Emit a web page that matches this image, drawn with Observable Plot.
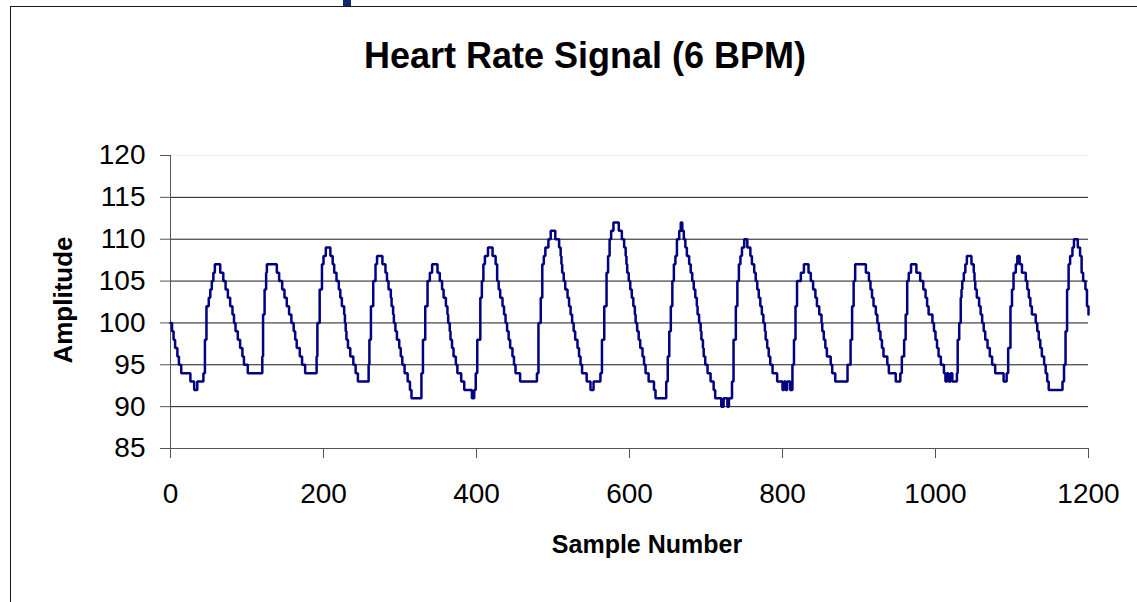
<!DOCTYPE html>
<html>
<head>
<meta charset="utf-8">
<script src="https://cdn.jsdelivr.net/npm/d3@7"></script>
<script src="https://cdn.jsdelivr.net/npm/@observablehq/plot@0.6"></script>
<style>
  html, body { margin: 0; padding: 0; background: #fff; }
  #wrap { position: relative; width: 1137px; height: 602px; overflow: hidden; font-family: "Liberation Sans", Arial, sans-serif; }
  #border { position: absolute; left: 10px; top: 6px; width: 2000px; height: 2000px; border-top: 1.5px solid #1a1a1a; border-left: 1.5px solid #1a1a1a; box-sizing: border-box; }
  #mark { position: absolute; left: 343px; top: 0; width: 8px; height: 6px; background: #0c2c6e; }
  #chart { position: absolute; left: 0; top: 0; }
  .lbl { position: absolute; font-weight: bold; color: #000; white-space: nowrap; text-align: center; }
  #title { left: 0; width: 1170px; top: 38px; font-size: 36px; line-height: 36px; }
  #xlab { left: 447px; width: 400px; top: 532px; font-size: 25px; line-height: 25px; }
  #ylab { left: -87px; width: 300px; top: 287px; font-size: 26px; line-height: 26px; transform: rotate(-90deg); transform-origin: 150px 13px; }
</style>
</head>
<body>
<div id="wrap">
  <div id="border"></div>
  <div id="mark"></div>
  <div id="chart"></div>
  <div class="lbl" id="title"></div>
  <div class="lbl" id="xlab"></div>
  <div class="lbl" id="ylab"></div>
</div>
<script>
const chartTitle = "Heart Rate Signal (6 BPM)";
const xTitle = "Sample Number";
const yTitle = "Amplitude";
const xTicks = [0, 200, 400, 600, 800, 1000, 1200];
const yTicks = [85, 90, 95, 100, 105, 110, 115, 120];
// Sample index where the (stepped) amplitude changes, and the new amplitude
const sampleIdx = [
  0,2,4,6,9,11,14,26,31,35,43,45,47,50,52,54,56,58,65,69,72,75,78,81,83,85,88,91,94,96,101,
  120,121,123,125,126,139,142,146,149,152,155,158,161,163,165,169,172,176,
  191,192,195,198,200,203,209,212,214,217,220,222,224,227,228,229,230,232,235,239,242,245,
  259,260,262,265,268,270,277,281,283,285,288,289,291,292,294,296,299,301,303,306,310,313,315,
  328,330,333,336,339,342,349,352,355,357,360,362,363,365,366,368,370,373,375,380,384,394,397,
  399,401,405,407,409,411,415,421,425,427,429,431,434,436,438,440,442,444,447,449,451,457,
  479,481,484,486,488,490,494,497,503,508,510,511,512,514,516,519,521,523,525,527,529,532,534,536,538,544,549,553,
  562,564,567,570,572,574,576,579,586,590,593,595,596,597,599,601,603,605,607,608,610,612,614,617,619,621,625,632,634,
  648,650,652,654,656,658,660,662,665,667,669,671,673,675,678,680,682,684,686,688,689,691,693,694,696,697,699,702,706,710,712,720,723,728,730,
  734,736,739,741,743,745,747,750,754,758,760,763,765,767,769,771,773,775,777,778,780,782,784,787,793,800,802,804,806,810,
  813,815,817,819,824,828,834,837,840,843,845,848,851,852,854,856,858,863,865,869,
  885,889,891,893,895,909,913,915,917,919,922,924,926,928,930,932,937,939,948,954,
  956,959,961,963,965,968,975,980,984,987,989,991,996,998,1000,1002,1004,1007,1011,1013,1015,1017,1020,1022,
  1028,1029,1031,1033,1034,1035,1037,1039,1041,1047,1050,1051,1052,1054,1057,1059,1061,1063,1065,1068,1071,1074,1078,1089,
  1093,1095,1098,1100,1102,1105,1107,1110,1113,1118,1120,1122,1124,1126,1131,1133,1135,1137,1139,1142,1144,1146,1148,
  1166,1168,1170,1172,1174,1176,1179,1181,1186,1189,1191,1193,1196,1198,1200
];
const amplitude = [
  100,99,98,97,96,95,94,93,92,93,94,98,102,103,104,105,106,107,106,105,104,103,102,101,100,99,98,97,96,95,94,
  96,101,104,106,107,106,105,104,103,102,101,100,99,98,97,96,95,94,
  96,100,104,107,108,109,108,107,106,105,104,103,102,101,100,99,98,97,96,95,94,93,
  95,98,102,105,107,108,107,106,105,104,103,102,101,100,99,98,97,96,95,94,93,92,91,
  94,98,102,105,106,107,106,105,104,103,102,101,100,99,98,97,96,95,94,93,92,91,92,
  94,98,103,105,107,108,109,108,107,105,104,103,102,101,100,99,98,97,96,95,94,93,
  94,100,103,107,108,109,110,111,110,109,108,107,106,105,104,103,102,101,100,99,98,97,96,95,94,93,92,93,
  94,98,102,106,108,110,111,112,111,110,109,108,107,106,105,104,103,102,101,100,99,98,97,96,95,94,93,92,91,
  93,96,99,102,105,107,108,110,111,112,111,110,109,108,107,106,105,104,103,102,101,100,99,98,97,96,95,94,93,92,91,90,91,90,91,
  93,98,102,105,107,108,109,110,109,108,107,106,105,104,103,102,101,100,99,98,97,96,95,94,93,92,93,92,93,92,
  95,98,102,105,106,107,106,105,104,103,102,101,100,99,98,97,96,95,94,93,
  95,98,102,105,107,106,105,104,103,102,101,100,99,98,97,96,95,94,93,94,
  96,98,101,105,106,107,106,105,104,103,102,101,100,99,98,97,96,95,94,93,94,93,94,93,
  94,98,100,103,104,105,106,107,108,107,106,105,104,103,102,101,100,99,98,97,96,95,94,93,
  94,97,102,104,106,107,108,107,106,105,104,103,102,101,100,99,98,97,96,95,94,93,92,
  93,95,99,104,107,108,109,110,109,108,106,105,104,102,101
];
const signal = sampleIdx.map((s, i) => ({sample: s, value: amplitude[i]}));

document.getElementById("title").textContent = chartTitle;
document.getElementById("xlab").textContent = xTitle;
document.getElementById("ylab").textContent = yTitle;

const chart = Plot.plot({
  width: 1137,
  height: 602,
  marginLeft: 170,
  marginRight: 49,
  marginTop: 155,
  marginBottom: 154,
  style: {background: "transparent", fontFamily: "'Liberation Sans', Arial, sans-serif", color: "#000"},
  x: {domain: [0, 1200], axis: null},
  y: {domain: [85, 120], axis: null},
  marks: [
    Plot.ruleY(yTicks.filter(d => d > 85 && d < 120), {stroke: "#1a1a1a", strokeWidth: 1, strokeOpacity: 1}),
    Plot.ruleY([120], {stroke: "#ececec", strokeWidth: 1}),
    Plot.axisY({ticks: yTicks, tickSize: 10, tickPadding: 15, fontSize: 28, stroke: "#555", strokeOpacity: 1, tickFormat: d => String(d), label: null}),
    Plot.axisX({ticks: xTicks, tickSize: 10, tickPadding: 25, fontSize: 28, stroke: "#555", strokeOpacity: 1, tickFormat: d => String(d), label: null}),
    Plot.ruleX([0], {stroke: "#555", strokeWidth: 1}),
    Plot.ruleY([85], {stroke: "#555", strokeWidth: 1}),
    Plot.line(signal, {x: "sample", y: "value", curve: "step-after", stroke: "#000080", strokeWidth: 2.5, strokeLinejoin: "miter"})
  ]
});
document.getElementById("chart").appendChild(chart);
</script>
</body>
</html>
